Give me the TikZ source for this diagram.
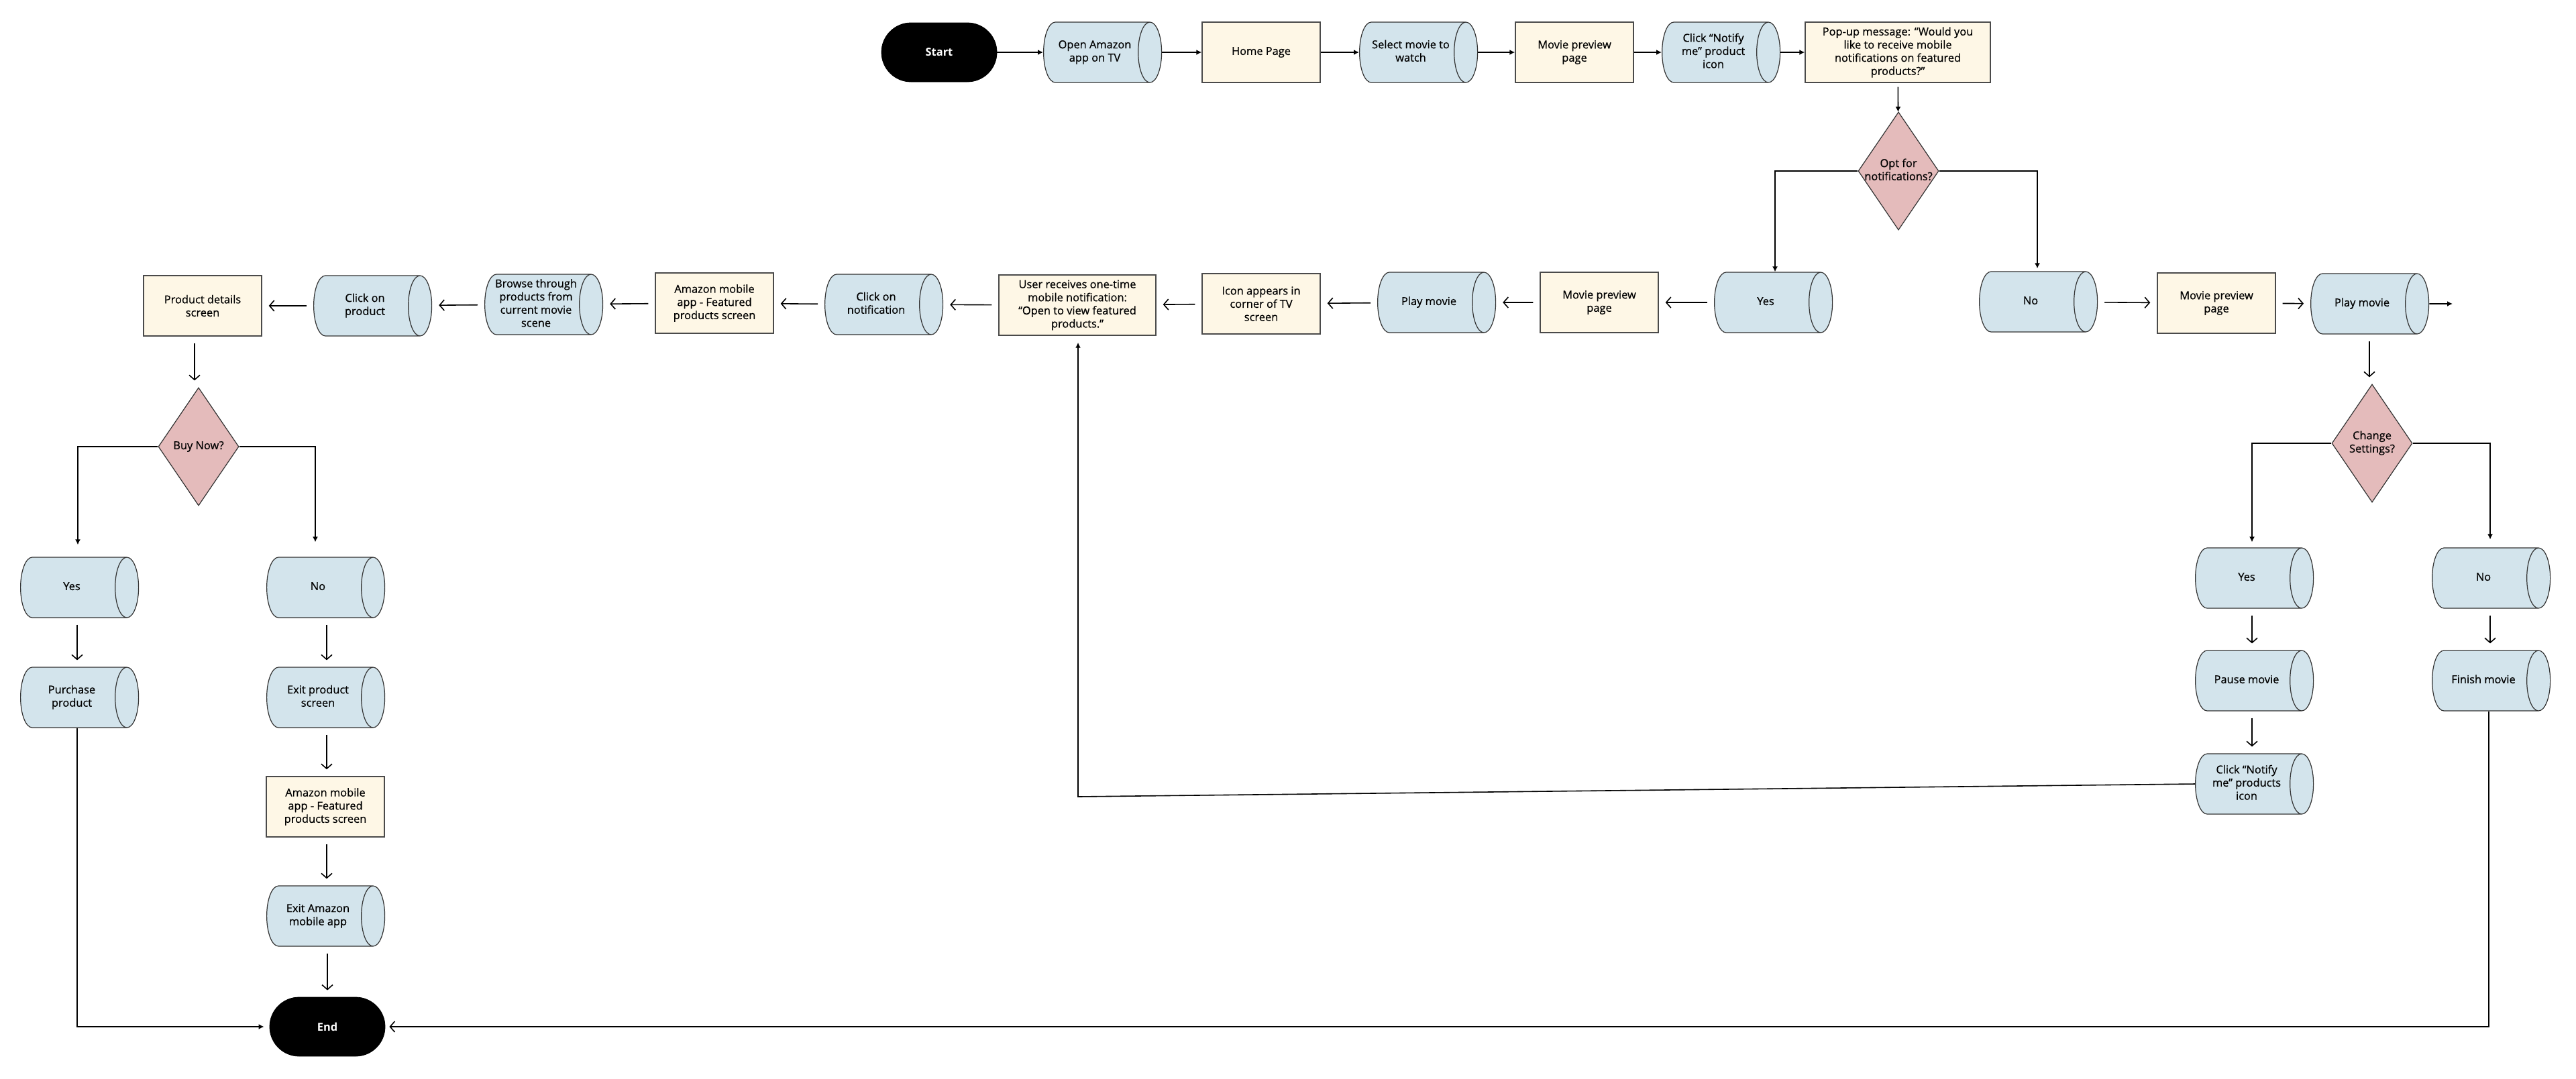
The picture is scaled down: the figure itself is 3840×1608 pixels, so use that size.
\documentclass[tikz,border=0pt]{standalone}
\usepackage{fontspec}
\setmainfont{Open Sans}[UprightFeatures={FakeBold=0.7}]
\usetikzlibrary{positioning,arrows.meta,shapes.geometric,calc}
\definecolor{actionblue}{HTML}{D3E4EC}
\definecolor{screencream}{HTML}{FEF7E6}
\definecolor{choicepink}{HTML}{E4BBBB}
\definecolor{edgegray}{HTML}{4A4A4A}
\newcommand{\choicetext}[1]{\makebox[0pt]{\begin{tabular}{@{}c@{}}#1\end{tabular}}}
\newcommand{\steptext}[1]{\parbox[c][36pt][c]{0pt}{\centering\makebox[0pt]{\begin{tabular}{@{}c@{}}#1\end{tabular}}}}
\tikzset{
    terminal/.style = {
        draw,
        shape=rectangle,
        rounded corners=22pt,
        fill=black,
        text=white,
        font=\fontsize{8.2pt}{9.8pt}\selectfont\bfseries,
        minimum height=44pt,
        minimum width=86pt
    },
    screen/.style = {
        draw=edgegray,
        shape=rectangle,
        fill=screencream,
        align=center,
        minimum height=45pt,
        minimum width=88pt,
        line width=0.7pt
    },
    action/.style = {
        draw=black!80,
        shape=cylinder,
        aspect=0.46,
        fill=actionblue,
        inner sep=1pt,
        minimum height=88pt,
        minimum width=45pt,
        line width=0.6pt
    },
    decision/.style = {
        draw=black!80,
        shape=diamond,
        fill=choicepink,
        inner sep=0pt,
        minimum height=88pt,
        minimum width=60pt,
        line width=0.6pt
    },
    flow/.style = {
        draw,
        line width=0.8pt,
        -{Latex[length=4pt,width=4pt]}
    },
    openflow/.style = {
        draw,
        line width=0.8pt,
        -{Straight Barb[length=3.5pt,width=8pt]},
        shorten >=5pt,
        shorten <=5pt
    },
}

\begin{document}
\begin{tikzpicture}[x=0.5pt,y=-0.5pt,font=\fontsize{8.2pt}{9.8pt}\selectfont]
    \useasboundingbox (0,0) rectangle (3840,1608);

    % top row
    \node[terminal] (start) at (1400,78) {Start};
    \node[action] (openapp) at (1632,78) {\steptext{Open Amazon\\app on TV}};
    \node[screen] (home) at (1880,78) {Home Page};
    \node[action] (select) at (2103,78) {\steptext{Select movie to\\watch}};
    \node[screen] (preview1) at (2347,78) {Movie preview\\page};
    \node[action] (notify1) at (2554,78) {\steptext{Click “Notify\\me” product\\icon}};
    \node[screen, minimum width=138pt] (popup) at (2829,78) {Pop-up message: “Would you\\like to receive mobile\\notifications on featured\\products?”};
    \node[decision] (optin) at (2830,255) {\choicetext{Opt for\\notifications?}};

    % middle row, yes branch
    \node[action] (yes1) at (2632,451) {\steptext{Yes}};
    \node[screen] (preview2) at (2384,451) {Movie preview\\page};
    \node[action] (play1) at (2130,451) {\steptext{Play movie}};
    \node[screen] (icon) at (1880,453) {Icon appears in\\corner of TV\\screen};
    \node[screen, minimum width=117pt] (mobnote) at (1606,455) {User receives one-time\\mobile notification:\\“Open to view featured\\products.”};
    \node[action] (clicknote) at (1306,454) {\steptext{Click on\\notification}};
    \node[screen] (featured1) at (1065,452) {Amazon mobile\\app - Featured\\products screen};
    \node[action] (browse) at (799,454) {\steptext{Browse through\\products from\\current movie\\scene}};
    \node[action] (clickprod) at (544,456) {\steptext{Click on\\product}};
    \node[screen] (details) at (302,456) {Product details\\screen};

    % middle row, no branch
    \node[action] (no1) at (3027,450) {\steptext{No}};
    \node[screen] (preview3) at (3304,452) {Movie preview\\page};
    \node[action] (play2) at (3521,453) {\steptext{Play movie}};
    \coordinate (playout) at (3656,453);

    % settings column
    \node[decision] (settings) at (3536,661) {\choicetext{Change\\Settings?}};
    \node[action] (yes2) at (3349,862) {\steptext{Yes}};
    \node[action] (pause) at (3349,1015) {\steptext{Pause movie}};
    \node[action] (notify2) at (3349,1169) {\steptext{Click “Notify\\me” products\\icon}};
    \node[action] (no2) at (3702,862) {\steptext{No}};
    \node[action] (finish) at (3702,1015) {\steptext{Finish movie}};
    \coordinate (backturn) at (1607,1188);

    % buy column
    \node[decision] (buynow) at (296,666) {\choicetext{Buy Now?}};
    \node[action] (yes3) at (107,876) {\steptext{Yes}};
    \node[action] (purchase) at (107,1040) {\steptext{Purchase\\product}};
    \node[action] (no3) at (474,876) {\steptext{No}};
    \node[action] (exitprod) at (474,1040) {\steptext{Exit product\\screen}};
    \node[screen] (featured2) at (485,1203) {Amazon mobile\\app - Featured\\products screen};
    \node[action] (exitapp) at (474,1366) {\steptext{Exit Amazon\\mobile app}};
    \node[terminal] (end) at (488,1531) {End};

    \path[flow] (start) -- (openapp);
    \path[flow] (openapp) -- (home);
    \path[flow] (home) -- (select);
    \path[flow] (select) -- (preview1);
    \path[flow] (preview1) -- (notify1);
    \path[flow] (notify1) -- (popup);
    \path[flow, shorten <=3pt] (popup) -- (optin);
    \path[flow] (optin.west) -| ([xshift=7pt]yes1.north);
    \path[flow, shorten >=2pt] (optin.east) -| ([xshift=5pt]no1.north);

    \path[openflow] (yes1) -- (preview2);
    \path[openflow] (preview2) -- (play1);
    \path[openflow] (play1) -- (icon);
    \path[openflow] (icon) -- (mobnote);
    \path[openflow] (mobnote) -- (clicknote);
    \path[openflow] (clicknote) -- (featured1);
    \path[openflow] (featured1) -- (browse);
    \path[openflow] (browse) -- (clickprod);
    \path[openflow] (clickprod) -- (details);
    \path[openflow] ([xshift=-3pt]buynow.north |- details.south) -- ([xshift=-3pt]buynow.north);

    \path[openflow] (no1) -- (preview3);
    \path[openflow] (preview3) -- (play2);
    \path[flow] (play2.east) -- (playout);
    \path[openflow] ([xshift=-2pt]settings.north |- play2.south) -- ([xshift=-2pt]settings.north);
    \path[flow, shorten >=4pt] (settings.west) -| ([xshift=4pt]yes2.north);
    \path[flow, shorten >=6pt] (settings.east) -| ([xshift=5pt]no2.north);
    \path[openflow] ([xshift=4pt]yes2.south) -- ([xshift=4pt]pause.north);
    \path[openflow] ([xshift=4pt]pause.south) -- ([xshift=4pt]notify2.north);
    \path[openflow] ([xshift=5pt]no2.south) -- ([xshift=5pt]finish.north);
    \path[flow, shorten >=5pt] (notify2.west) -- (backturn) -- (backturn |- mobnote.south);

    \path[flow, shorten >=9pt] (buynow.west) -| ([xshift=4.5pt]yes3.north);
    \path[flow, shorten >=11pt] (buynow.east) -| ([xshift=-2pt]no3.north);
    \path[openflow] ([xshift=4pt]yes3.south) -- ([xshift=4pt]purchase.north);
    \path[openflow] ([xshift=6.5pt]no3.south) -- ([xshift=6.5pt]exitprod.north);
    \path[openflow] ([xshift=1pt]featured2.north |- exitprod.south) -- ([xshift=1pt]featured2.north);
    \path[openflow] ([xshift=1pt]featured2.south) -- ([xshift=1pt]featured2.south |- exitapp.north);
    \path[openflow] (end.north |- exitapp.south) -- (end.north);
    \path[flow, shorten >=4pt] ([xshift=4pt]purchase.south) |- (end.west);
    \path[draw, line width=0.8pt, -{Straight Barb[length=3.5pt,width=8pt]}, shorten >=3pt] ([xshift=4pt]finish.south) |- (end.east);
\end{tikzpicture}
\end{document}
